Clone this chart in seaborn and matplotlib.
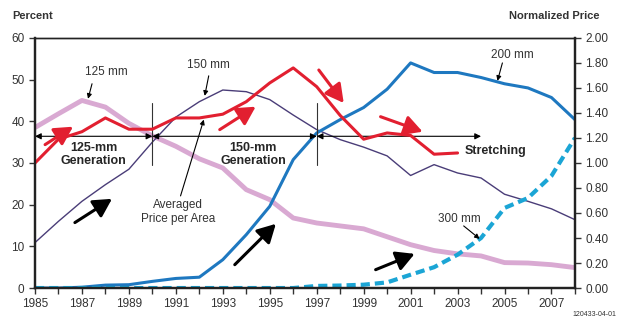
import matplotlib
matplotlib.use("Agg")
import matplotlib.pyplot as plt
import seaborn as sns
import pandas as pd

# data
years = list(range(1985, 2009))
pct_125 = [38.5, 41.8, 45.0, 43.4, 39.5, 36.5, 34.0, 31.0, 28.8, 23.6, 21.2, 16.8,
           15.6, 14.9, 14.2, 12.3, 10.4, 9.0, 8.2, 7.7, 6.1, 6.0, 5.6, 4.9]
pct_150 = [10.9, 16.0, 20.8, 24.8, 28.5, 35.0, 41.0, 44.7, 47.5, 47.1, 45.2, 41.5,
           38.0, 35.6, 33.8, 31.7, 27.0, 29.6, 27.6, 26.4, 22.5, 20.8, 19.0, 16.4]
pct_200 = [0.0, 0.0, 0.2, 0.7, 0.8, 1.6, 2.3, 2.6, 6.8, 12.8, 19.6, 30.8,
           37.2, 40.4, 43.3, 47.7, 54.0, 51.7, 51.7, 50.5, 49.0, 48.0, 45.7, 40.4]
pct_300 = [0.0, 0.0, 0.0, 0.0, 0.0, 0.0, 0.0, 0.0, 0.0, 0.0, 0.0, 0.0,
           0.5, 0.6, 0.8, 1.35, 3.2, 5.0, 8.0, 12.0, 19.2, 21.6, 26.9, 36.0]
price_years = list(range(1985, 2004))
price = [1.00, 1.19, 1.25, 1.36, 1.27, 1.27, 1.36, 1.36, 1.39, 1.49, 1.64, 1.76,
         1.61, 1.38, 1.19, 1.24, 1.22, 1.07, 1.08]

df = pd.DataFrame({"year": years, "125": pct_125, "150": pct_150,
                   "200": pct_200, "300": pct_300})
price_df = pd.DataFrame({"year": price_years, "price": price})

sns.set_style("ticks")
plt.rcParams["font.family"] = ["Liberation Sans", "DejaVu Sans"]

fig = plt.figure(figsize=(6.36, 3.24), dpi=100)
ax = fig.add_axes([0.055, 0.111, 0.849, 0.772])
ax2 = ax.twinx()

sns.lineplot(data=df, x="year", y="125", ax=ax, color="#d9a9d2", lw=3.5)
sns.lineplot(data=df, x="year", y="150", ax=ax, color="#4a3d78", lw=1.0)
sns.lineplot(data=df, x="year", y="200", ax=ax, color="#1e78c0", lw=2.2)
sns.lineplot(data=df, x="year", y="300", ax=ax, color="#1ba5d5", lw=3.0,
             linestyle=(0, (2.2, 1.2)))
sns.lineplot(data=price_df, x="year", y="price", ax=ax2, color="#e21f30", lw=2.2)

ax.set_xlim(1985, 2008)
ax.set_ylim(0, 60)
ax2.set_ylim(0, 2)
ax.set_xticks(range(1985, 2009, 2))
ax.set_xticks(range(1985, 2009), minor=True)
ax.set_yticks(range(0, 61, 10))
ax2.set_yticks([i * 0.2 for i in range(11)])
ax2.set_yticklabels([f"{i * 0.2:.2f}" for i in range(11)])
for a in (ax, ax2):
    a.set_xlabel("")
    a.set_ylabel("")
    a.tick_params(labelsize=8.5, colors="#333333", length=4, width=1)
    for s in a.spines.values():
        s.set_color("#222222")
        s.set_linewidth(1.6)
    a.spines["top"].set_linewidth(1.0)
ax.tick_params(axis="x", which="minor", length=4, width=1, color="#333333")

fig.text(0.02, 0.95, "Percent", fontsize=8, fontweight="bold", color="#333333",
         va="center")
fig.text(0.80, 0.95, "Normalized Price", fontsize=8, fontweight="bold",
         color="#333333", va="center")
fig.text(0.935, 0.025, "120433-04-01", fontsize=5, color="#333333", ha="center")

# generation markers
for yr in (1990, 1997):
    ax.plot([yr, yr], [29.6, 44.4], color="#333333", lw=0.8)
for x0, x1 in ((1985, 1990), (1990, 1997), (1997, 2004)):
    ax.annotate("", xy=(x1, 36.4), xytext=(x0, 36.4),
                arrowprops=dict(arrowstyle="<|-|>", color="black", lw=0.8,
                                mutation_scale=9, shrinkA=0, shrinkB=0))
ax.text(1987.5, 32.0, "125-mm\nGeneration", ha="center", va="center",
        fontsize=9, fontweight="bold", linespacing=1.1)
ax.text(1994.3, 32.0, "150-mm\nGeneration", ha="center", va="center",
        fontsize=9, fontweight="bold", linespacing=1.1)
ax.text(2003.3, 32.9, "Stretching", ha="left", va="center", fontsize=9,
        fontweight="bold")

# labels with small arrows
small = dict(arrowstyle="-|>", color="black", lw=0.8, mutation_scale=7,
             shrinkA=0, shrinkB=0)
ax.text(1988.06, 51.9, "125 mm", ha="center", va="center", fontsize=8.5,
        color="#333333")
ax.annotate("", xy=(1987.26, 45.4), xytext=(1987.43, 49.0), arrowprops=small)
ax.text(1992.4, 53.5, "150 mm", ha="center", va="center", fontsize=8.5,
        color="#333333")
ax.annotate("", xy=(1992.23, 46.1), xytext=(1992.4, 50.9), arrowprops=small)
ax.text(2005.34, 56.0, "200 mm", ha="center", va="center", fontsize=8.5,
        color="#333333")
ax.annotate("", xy=(2004.7, 49.7), xytext=(2004.91, 54.0), arrowprops=small)
ax.text(2003.09, 16.6, "300 mm", ha="center", va="center", fontsize=8.5,
        color="#333333")
ax.annotate("", xy=(2003.94, 11.8), xytext=(2003.26, 14.9), arrowprops=small)
ax.text(1991.09, 18.3, "Averaged\nPrice per Area", ha="center", va="center",
        fontsize=8.5, color="#333333", linespacing=1.2)
ax.annotate("", xy=(1992.19, 40.4), xytext=(1991.2, 22.1), arrowprops=small)

# thick trend arrows
head = "-|>,head_length=0.55,head_width=0.3"
big_red = dict(arrowstyle=head, color="#e21f30", lw=2.2, mutation_scale=20,
               shrinkA=0, shrinkB=0)
for (x0, y0), (x1, y1) in [((1985.43, 34.4), (1986.62, 38.7)),
                           ((1992.87, 38.0), (1994.4, 43.5)),
                           ((1997.09, 52.3), (1998.15, 44.4)),
                           ((1999.72, 41.1), (2001.51, 37.5))]:
    ax.annotate("", xy=(x1, y1), xytext=(x0, y0), arrowprops=big_red)
big_black = dict(arrowstyle=head, color="black", lw=2.2, mutation_scale=20,
                 shrinkA=0, shrinkB=0)
for (x0, y0), (x1, y1) in [((1986.7, 15.7), (1988.28, 21.4)),
                           ((1993.51, 5.6), (1995.26, 15.4)),
                           ((1999.51, 4.4), (2001.17, 8.2))]:
    ax.annotate("", xy=(x1, y1), xytext=(x0, y0), arrowprops=big_black)

fig.savefig("out.png", dpi=100)
